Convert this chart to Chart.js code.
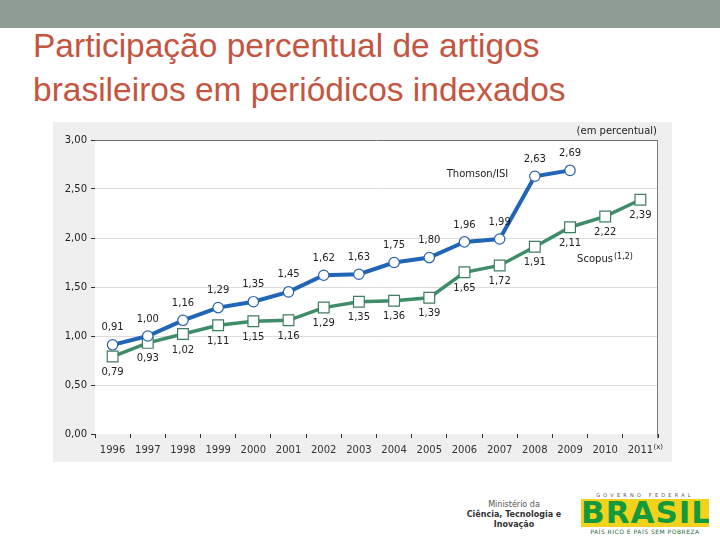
<!DOCTYPE html>
<html>
<head>
<meta charset="utf-8">
<script src="https://cdn.jsdelivr.net/npm/chart.js@4/dist/chart.umd.min.js"></script>
<style>
  html, body { margin: 0; padding: 0; background: #ffffff; width: 720px; height: 540px; overflow: hidden; }
  #topbar { position: absolute; left: 0; top: 0; width: 720px; height: 28px; background: #8f9d95; }
  #title { position: absolute; left: 33px; top: 24px; font-family: "Liberation Sans", Arial, sans-serif; font-size: 33.5px; line-height: 44px; color: #c4553f; white-space: nowrap; }
  #panel { position: absolute; left: 53px; top: 122px; width: 619px; height: 340px; background: #efefef; }
  #mct { position: absolute; left: 455px; top: 500px; width: 118px; text-align: center; font-family: "DejaVu Sans", sans-serif; font-size: 8px; line-height: 10px; color: #555; }
  #mct b { color: #333; }
  #gov { position: absolute; left: 581px; top: 492px; width: 128px; font-family: "DejaVu Sans", sans-serif; color: #1d8a3a; text-align: center; }
  #gov .small { font-size: 5px; letter-spacing: 3.2px; color: #555; line-height: 7px; }
  #gov .big { background: #f3d21b; color: #149a3c; font-family: "DejaVu Sans", sans-serif; font-weight: bold; font-size: 31px; line-height: 27px; height: 28px; letter-spacing: 1px; overflow: hidden; }
  #gov .slogan { font-size: 6px; color: #1d6a3a; line-height: 9px; letter-spacing: 0.5px; }
</style>
</head>
<body>
<div id="topbar"></div>
<div id="title">Participação percentual de artigos<br>brasileiros em periódicos indexados</div>
<div id="panel"><canvas id="c" width="619" height="340"></canvas></div>
<div id="mct">Ministério da<br><b>Ciência, Tecnologia e</b><br><b>Inovação</b></div>
<div id="gov"><div class="small">GOVERNO FEDERAL</div><div class="big">BRASIL</div><div class="slogan">PAÍS RICO É PAÍS SEM POBREZA</div></div>
<script>
const years = ["1996","1997","1998","1999","2000","2001","2002","2003","2004","2005","2006","2007","2008","2009","2010","2011"];
const thomsonISI = [0.91, 1.00, 1.16, 1.29, 1.35, 1.45, 1.62, 1.63, 1.75, 1.80, 1.96, 1.99, 2.63, 2.69, null, null];
const scopus = [0.79, 0.93, 1.02, 1.11, 1.15, 1.16, 1.29, 1.35, 1.36, 1.39, 1.65, 1.72, 1.91, 2.11, 2.22, 2.39];
const yTicks = [0, 0.5, 1, 1.5, 2, 2.5, 3];

const fmt = v => v.toFixed(2).replace('.', ',');
const FONT = '"DejaVu Sans", Verdana, sans-serif';

const decor = {
  id: 'decor',
  beforeDraw(chart) {
    const {ctx, chartArea: a} = chart;
    ctx.save();
    ctx.fillStyle = '#ffffff';
    ctx.fillRect(a.left, a.top, a.right - a.left, a.bottom - a.top);
    ctx.restore();
  },
  afterDraw(chart) {
    const {ctx, chartArea: a, scales} = chart;
    const xs = scales.x, ys = scales.y;
    ctx.save();
    ctx.strokeStyle = '#7a7a7a';
    ctx.lineWidth = 1;
    ctx.beginPath();
    ctx.moveTo(a.right - 0.5, a.top);
    ctx.lineTo(a.right - 0.5, a.bottom + 4);
    ctx.stroke();
    ctx.fillStyle = '#222';
    ctx.font = '10px ' + FONT;
    ctx.textBaseline = 'middle';
    chart.data.datasets.forEach((ds, di) => {
      const meta = chart.getDatasetMeta(di);
      meta.data.forEach((pt, i) => {
        const v = ds.data[i];
        if (v === null || v === undefined) return;
        ctx.textAlign = 'center';
        const dy = di === 0 ? -17 : 16;
        ctx.fillText(fmt(v), pt.x, pt.y + dy);
      });
    });
    ctx.textAlign = 'center';
    ctx.fillText('Thomson/ISI', xs.getPixelForValue(10.37), ys.getPixelForValue(2.65));
    ctx.textAlign = 'left';
    const sx = xs.getPixelForValue(13.2), sy = ys.getPixelForValue(1.78);
    ctx.fillText('Scopus', sx, sy);
    const w = ctx.measureText('Scopus').width;
    ctx.font = '8px ' + FONT;
    ctx.fillText('(1,2)', sx + w + 1, sy - 3);
    ctx.font = '10px ' + FONT;
    ctx.textAlign = 'right';
    ctx.fillText('(em percentual)', a.right - 1, a.top - 9);
    ctx.font = '7px ' + FONT;
    ctx.textAlign = 'left';
    ctx.fillText('(x)', xs.getPixelForValue(15) + 13, a.bottom + 13);
    ctx.restore();
  }
};

new Chart(document.getElementById('c'), {
  type: 'line',
  data: {
    labels: years,
    datasets: [
      {
        label: 'Thomson/ISI',
        data: thomsonISI,
        borderColor: '#2165b6',
        borderWidth: 4,
        pointStyle: 'circle',
        pointRadius: 5.2,
        pointBorderWidth: 1.2,
        pointBorderColor: '#2a62a8',
        pointBackgroundColor: '#ffffff',
        tension: 0,
        spanGaps: false
      },
      {
        label: 'Scopus',
        data: scopus,
        borderColor: '#3f8d68',
        borderWidth: 3.5,
        pointStyle: 'rect',
        pointRadius: 7.6,
        pointBorderWidth: 1.2,
        pointBorderColor: '#3f7d60',
        pointBackgroundColor: '#ffffff',
        tension: 0
      }
    ]
  },
  options: {
    responsive: false,
    animation: false,
    events: [],
    layout: { padding: { top: 18, right: 14, left: 0, bottom: 0 } },
    plugins: { legend: { display: false }, tooltip: { enabled: false }, title: { display: false } },
    scales: {
      x: {
        offset: true,
        grid: { offset: true, drawOnChartArea: false, drawTicks: true, tickLength: 4, tickColor: '#333', color: '#333' },
        border: { display: false },
        ticks: { color: '#333', font: { family: FONT, size: 10 }, padding: 6, maxRotation: 0, autoSkip: false },
        afterFit(s) { s.height = 28; }
      },
      y: {
        min: 0, max: 3,
        afterBuildTicks(s) { s.ticks = yTicks.map(v => ({ value: v })); },
        grid: {
          color: c => (c.tick && c.tick.value === 3) ? '#707070' : (c.tick && c.tick.value === 0 ? 'rgba(0,0,0,0)' : '#dcdcdc'),
          tickColor: '#333', tickLength: 4, lineWidth: 1
        },
        border: { display: false },
        ticks: { color: '#222', font: { family: FONT, size: 10 }, padding: 4, callback: v => fmt(v) },
        afterFit(s) { s.width = 42; }
      }
    }
  },
  plugins: [decor]
});
</script>
</body>
</html>
